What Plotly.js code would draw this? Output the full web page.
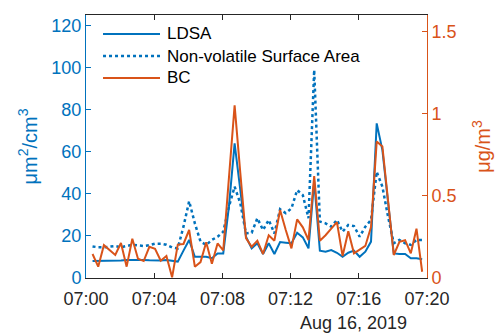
<!DOCTYPE html>
<html>
<head>
<meta charset="utf-8">
<script src="https://cdn.plot.ly/plotly-3.0.1.min.js"></script>
<style>html,body{margin:0;padding:0;background:#fff;}#chart{width:498px;height:333px;}</style>
</head>
<body>
<div id="chart"></div>
<script>
// Sampling grid: first sample 07:00:23, one sample every 20 s
const startTime = "2019-08-16 07:00:23";
const stepSeconds = 20;

const ldsa = [8.1, 8.1, 8.1, 8.1, 8.1, 8.3, 8.5, 8.6, 8.8, 8.6,
              8.4, 8.3, 8.3, 8.5, 8.3, 7.8, 13, 18.1, 10.1, 10.1,
              10.1, 9.4, 11.7, 11.7, 34, 64, 43, 19.6, 14.1, 16.5,
              11.4, 16.5, 11.4, 17.1, 16.8, 16.5, 21.5, 19.3, 14.1, 46,
              13, 12.5, 13.3, 12, 10.1, 12, 13, 10.1, 12.5, 17.3,
              73.5, 60.8, 36, 11.7, 11.4, 11.4, 9.4, 9.4, 8.9];

const nonVolatile = [15, 14.6, 14.6, 14.8, 15.2, 14.6, 15.3, 15.8, 15.5, 15.2,
                     15.6, 16.3, 16.3, 15.8, 14.5, 14.1, 24.4, 36.5, 26, 17.3,
                     15.7, 18.1, 19.6, 22, 33.9, 43.4, 35.5, 21.2, 21.5, 28.4,
                     22.8, 27.6, 21.2, 32.7, 30.8, 33.1, 41.8, 39.4, 28.4, 98.9,
                     26.8, 26, 24.4, 27.6, 22, 25.2, 24.7, 19.6, 24.4, 27.6,
                     50.5, 43.4, 29.1, 16.5, 18.1, 16.5, 15.7, 18.1, 18.1];

const bc = [0.146, 0.069, 0.20, 0.17, 0.14, 0.213, 0.069, 0.239, 0.117, 0.103,
            0.19, 0.178, 0.105, 0.134, 0.004, 0.203, 0.207, 0.292, 0.069, 0.097,
            0.217, 0.087, 0.21, 0.168, 0.62, 1.05, 0.64, 0.243, 0.19, 0.227,
            0.146, 0.26, 0.227, 0.414, 0.292, 0.18, 0.357, 0.308, 0.231, 0.62,
            0.227, 0.26, 0.30, 0.34, 0.134, 0.284, 0.15, 0.17, 0.195, 0.31,
            0.83, 0.80, 0.47, 0.14, 0.22, 0.23, 0.15, 0.30, 0.038];

const seriesNames = ["LDSA", "Non-volatile Surface Area", "BC"];
const xTickLabelsFormat = "%H:%M";
const dateLabel = "Aug 16, 2019";

function pad(n){ return (n < 10 ? "0" : "") + n; }
function timeAt(k){
  const base = new Date(startTime.replace(" ", "T") + "Z").getTime();
  const d = new Date(base + k * stepSeconds * 1000);
  return d.getUTCFullYear() + "-" + pad(d.getUTCMonth()+1) + "-" + pad(d.getUTCDate()) + " " +
         pad(d.getUTCHours()) + ":" + pad(d.getUTCMinutes()) + ":" + pad(d.getUTCSeconds());
}
const times = ldsa.map((_, k) => timeAt(k));

const BLUE = "#0072BD", ORANGE = "#D95319", DARK = "#262626";
const FONT = "Liberation Sans, Arial, Helvetica, sans-serif";

const styles = [
  {color: BLUE, width: 2, dash: "solid"},
  {color: BLUE, width: 2.5, dash: "dot"},
  {color: ORANGE, width: 2, dash: "solid"}
];
const axesOf = ["y", "y", "y2"];
const values = [ldsa, nonVolatile, bc];

const traces = values.map((v, i) => ({
  x: times, y: v, name: seriesNames[i], type: "scatter", mode: "lines",
  line: styles[i], yaxis: axesOf[i], showlegend: false
}));

// Legend drawn as paper-positioned samples (MATLAB-style, no box)
const legendRowsY = [0.9278, 0.8441, 0.7605];
const legendShapes = seriesNames.map((n, i) => ({
  type: "line", xref: "paper", yref: "paper",
  x0: 0.0499, x1: 0.217, y0: legendRowsY[i], y1: legendRowsY[i],
  line: styles[i]
}));
const legendTexts = seriesNames.map((n, i) => ({
  text: n, xref: "paper", yref: "paper", x: 0.2317, y: legendRowsY[i],
  xanchor: "left", yanchor: "middle", showarrow: false,
  font: {family: FONT, size: 17, color: "#000"}
}));

const layout = {
  width: 498, height: 333,
  margin: {l: 86, r: 71, t: 15, b: 55},
  paper_bgcolor: "#fff", plot_bgcolor: "#fff",
  font: {family: FONT, size: 18, color: DARK},
  showlegend: false,
  xaxis: {type: "date", range: ["2019-08-16 07:00:00", "2019-08-16 07:20:00"],
          tickformat: xTickLabelsFormat, dtick: 240000, tick0: "2019-08-16 07:00:00",
          ticks: "inside", ticklen: 5, tickcolor: DARK, tickwidth: 1,
          showline: true, linecolor: DARK, linewidth: 1, mirror: "ticks",
          showgrid: false, zeroline: false, ticklabelstandoff: 4,
          tickfont: {family: FONT, size: 18, color: DARK}},
  yaxis: {range: [0, 125], tickvals: [0, 20, 40, 60, 80, 100, 120],
          ticks: "inside", ticklen: 5, tickcolor: BLUE, tickwidth: 1,
          showline: true, linecolor: BLUE, linewidth: 1,
          showgrid: false, zeroline: false,
          tickfont: {family: FONT, size: 18, color: BLUE},
          title: {text: "μm<sup>2</sup>/cm<sup>3</sup>", font: {family: FONT, size: 20, color: BLUE}, standoff: 8}},
  yaxis2: {range: [0, 1.6], tickvals: [0, 0.5, 1, 1.5], ticktext: ["0", "0.5", "1", "1.5"],
           overlaying: "y", side: "right",
           ticks: "inside", ticklen: 5, tickcolor: ORANGE, tickwidth: 1,
           showline: true, linecolor: ORANGE, linewidth: 1,
           showgrid: false, zeroline: false,
           tickfont: {family: FONT, size: 18, color: ORANGE},
           title: {text: "μg/m<sup>3</sup>", font: {family: FONT, size: 20, color: ORANGE}, standoff: 20}},
  shapes: legendShapes,
  annotations: legendTexts.concat([{text: dateLabel, xref: "paper", yref: "paper", x: 0.783, y: -0.171,
                 xanchor: "center", yanchor: "middle", showarrow: false,
                 font: {family: FONT, size: 18, color: DARK}}])
};

Plotly.newPlot("chart", traces, layout, {displayModeBar: false, staticPlot: true});
</script>
</body>
</html>
